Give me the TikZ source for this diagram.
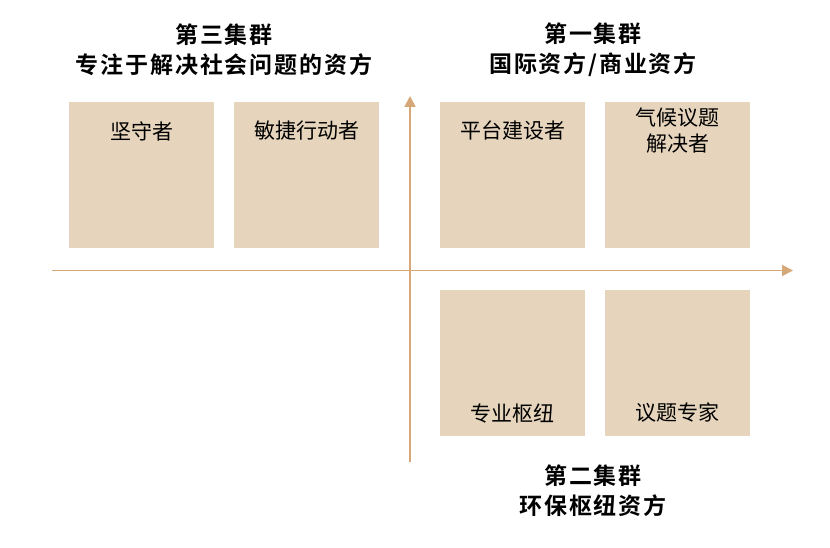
\documentclass[tikz,border=0pt]{standalone}
\usepackage{fontspec}
\newfontfamily\cjk{Noto Sans CJK SC}
\newfontfamily\cjkb[LetterSpace=8]{Noto Sans CJK SC Bold}
\usetikzlibrary{arrows.meta}
\definecolor{axisc}{HTML}{D6A877}
\definecolor{boxc}{HTML}{E6D5BC}
\begin{document}
\begin{tikzpicture}[x=1pt,y=-1pt,
  card/.style={fill=boxc,draw=none,minimum width=145pt,minimum height=146pt,inner sep=0pt,anchor=north west},
  lab/.style={font=\cjk\fontsize{21}{26}\selectfont,align=center,inner sep=0pt},
  ttl/.style={font=\cjkb\fontsize{23}{30}\selectfont,align=center,inner sep=0pt},
  axis/.style={draw=axisc,line width=1.8pt,-{Triangle[length=11pt,width=11pt]}}]
\useasboundingbox (0,0) rectangle (830,548);
% axes
\coordinate (hs) at (52,270.5);
\coordinate (he) at (793,270.5);
\coordinate (vs) at (410,462);
\coordinate (ve) at (410,96);
\draw[axis] (hs) -- (he);
\draw[axis] (vs) -- (ve);
% cards
\node[card] (b1) at (69,102) {};
\node[card] (b2) at (234,102) {};
\node[card] (b3) at (440,102) {};
\node[card] (b4) at (605,102) {};
\node[card] (b5) at (440,290) {};
\node[card] (b6) at (605,290) {};
\node[lab] (l1) at (141.5,131) {坚守者};
\node[lab] (l2) at (306.5,131) {敏捷行动者};
\node[lab] (l3) at (512.5,131) {平台建设者};
\node[lab] (l4) at (677.5,131) {气候议题\\解决者};
\node[lab] (l5) at (512.5,413) {专业枢纽};
\node[lab] (l6) at (677.5,413) {议题专家};
% titles
\node[ttl] (t3) at (224,50) {第三集群\\专注于解决社会问题的资方};
\node[ttl] (t1) at (593,50) {第一集群\\国际资方/商业资方};
\node[ttl] (t2) at (593,491) {第二集群\\环保枢纽资方};
\end{tikzpicture}
\end{document}
